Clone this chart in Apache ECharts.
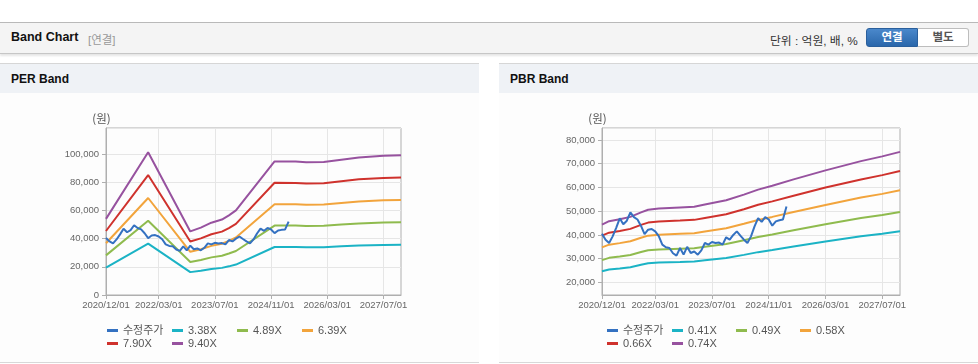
<!DOCTYPE html>
<html><head><meta charset="utf-8">
<script src="https://cdn.jsdelivr.net/npm/echarts@6/dist/echarts.min.js"></script>
<style>
html,body{margin:0;padding:0;background:#fff;width:978px;height:364px;overflow:hidden;font-family:'Liberation Sans','Noto Sans CJK KR',sans-serif;}
.abs{position:absolute;}
#topbar{left:0;top:22px;width:978px;height:30px;background:#f4f4f4;border-top:1px solid #b9b9b9;border-bottom:1px solid #c6c6c6;box-shadow:0 2px 2px rgba(0,0,0,0.10);}
#ttl{left:11px;top:7px;font-weight:bold;font-size:12.5px;color:#111;}
#sub{left:88px;top:8px;font-size:11.5px;color:#999;}
#unit{left:770px;top:8px;font-size:11.8px;color:#333;}
#btn1{left:866px;top:5px;width:52px;height:19px;background:linear-gradient(#4a88cb,#2a67ab);border:1px solid #2a5f9c;border-radius:3px 0 0 3px;box-sizing:border-box;color:#fff;font-weight:bold;font-size:11.5px;text-align:center;line-height:17px;}
#btn2{left:918px;top:5px;width:51px;height:19px;background:#fff;border:1px solid #bdbdbd;border-left:none;border-radius:0 3px 3px 0;box-sizing:border-box;color:#555;font-weight:bold;font-size:11.5px;text-align:center;line-height:17px;}
.ph{top:63px;height:29px;background:#eff2f6;border-top:1px solid #d6d6d6;}
.ph span{position:absolute;left:11px;top:8px;font-weight:bold;font-size:12px;color:#111;}
.pb{top:93px;height:269px;background:#fdfdfd;border-bottom:1px solid #d8d8d8;}
#chart{left:0;top:0;width:978px;height:364px;}
</style></head>
<body>
<div id="topbar" class="abs">
  <div id="ttl" class="abs">Band Chart</div>
  <div id="sub" class="abs">[연결]</div>
  <div id="unit" class="abs">단위 : 억원, 배, %</div>
  <div id="btn1" class="abs">연결</div>
  <div id="btn2" class="abs">별도</div>
</div>
<div class="abs ph" style="left:0;width:479px;"><span>PER Band</span></div>
<div class="abs ph" style="left:499px;width:479px;"><span>PBR Band</span></div>
<div class="abs pb" style="left:0;width:479px;"></div>
<div class="abs pb" style="left:499px;width:479px;"></div>
<div id="chart" class="abs"></div>
<script>
const categories = [
'2020/12/01',
'2021/01/01','2021/02/01','2021/03/01','2021/04/01','2021/05/01','2021/06/01','2021/07/01','2021/08/01','2021/09/01','2021/10/01','2021/11/01','2021/12/01',
'2022/01/01','2022/02/01','2022/03/01','2022/04/01','2022/05/01','2022/06/01','2022/07/01','2022/08/01','2022/09/01','2022/10/01','2022/11/01','2022/12/01',
'2023/01/01','2023/02/01','2023/03/01','2023/04/01','2023/05/01','2023/06/01','2023/07/01','2023/08/01','2023/09/01','2023/10/01','2023/11/01','2023/12/01',
'2024/01/01','2024/02/01','2024/03/01','2024/04/01','2024/05/01','2024/06/01','2024/07/01','2024/08/01','2024/09/01','2024/10/01','2024/11/01','2024/12/01',
'2025/01/01','2025/02/01','2025/03/01','2025/04/01','2025/05/01','2025/06/01','2025/07/01','2025/08/01','2025/09/01','2025/10/01','2025/11/01','2025/12/01',
'2026/01/01','2026/02/01','2026/03/01','2026/04/01','2026/05/01','2026/06/01','2026/07/01','2026/08/01','2026/09/01','2026/10/01','2026/11/01','2026/12/01',
'2027/01/01','2027/02/01','2027/03/01','2027/04/01','2027/05/01','2027/06/01','2027/07/01','2027/08/01','2027/09/01','2027/10/01','2027/11/01','2027/12/01'
];
const xTickLabels = ['2020/12/01','2022/03/01','2023/07/01','2024/11/01','2026/03/01','2027/07/01'];

// 수정주가 (monthly, from 2020/12)
const price = [40500,38000,36600,39400,43000,47000,44500,46000,49500,47500,46500,43800,40300,42200,42500,41500,39500,35900,34800,34500,32300,31300,34500,31700,35000,32400,33000,31700,33500,36600,35900,37000,36600,36800,35900,39000,38000,40000,41500,39700,38000,36600,39400,43600,47100,45500,47500,46500,43900,45700,46200,46500,52000];

// PER band
const perNames = ['3.38X','4.89X','6.39X','7.90X','9.40X'];
const perDates = ['2020/12/01','2021/12/01','2022/12/01','2023/03/01','2023/06/01','2023/09/01','2023/11/01','2024/01/01','2024/12/01','2025/06/01','2025/09/01','2026/02/01','2026/07/01','2026/12/01','2027/07/01','2027/12/01'];
const per338 = [19420,36390,16220,17190,18450,19240,20320,21580,34050,34020,33840,33910,34520,35100,35530,35640];
const per489 = [28090,52640,23460,24870,26690,27830,29390,31210,49260,49210,48950,49050,49940,50770,51400,51550];
const per639 = [36710,68800,30660,32490,34870,36370,38410,40790,64380,64310,63970,64100,65260,66350,67160,67370];
const per790 = [45380,85050,37900,40170,43110,44960,47480,50430,79590,79500,79080,79250,80680,82020,83030,83280];
const per940 = [54000,101200,45100,47800,51300,53500,56500,60000,94700,94600,94100,94300,96000,97600,98800,99100];

// PBR band
const pbrNames = ['0.41X','0.49X','0.58X','0.66X','0.74X'];
const pbrDates = ['2020/12/01','2021/02/01','2021/05/01','2021/08/01','2021/11/01','2022/01/01','2022/04/01','2022/10/01','2023/02/01','2023/05/01','2023/11/01','2024/04/01','2024/08/01','2024/12/01','2025/06/01','2026/03/01','2027/01/01','2027/07/01','2027/12/01'];
const pbr041 = [24700,25450,25850,26400,27450,28050,28350,28600,28800,29300,30300,31600,32750,33650,35150,37250,39400,40500,41600];
const pbr049 = [29400,30350,30900,31550,32800,33550,33850,34200,34400,35000,36200,37750,39150,40200,42000,44500,47100,48400,49700];
const pbr058 = [34750,35900,36550,37350,38800,39700,40050,40450,40700,41400,42800,44700,46300,47600,49700,52650,55750,57300,58800];
const pbr066 = [39700,40950,41650,42550,44250,45200,45650,46050,46350,47150,48750,50850,52700,54150,56550,59950,63400,65200,66900];
const pbr074 = [44300,45800,46600,47600,49500,50600,51100,51600,51900,52800,54600,57000,59100,60700,63400,67200,71100,73100,75000];

const perAxis = {min: 0, max: 118440};
const pbrAxis = {min: 14690, max: 85060};

const FONT = "'Liberation Sans','Noto Sans CJK KR',sans-serif";
const colors = {price:'#3471c1', c1:'#1bb3c5', c2:'#8fbb4e', c3:'#f2a43c', c4:'#cf322d', c5:'#97529f'};
const bandColors = [colors.c1, colors.c2, colors.c3, colors.c4, colors.c5];

const isTick = (i, v) => xTickLabels.indexOf(v) >= 0;
const fmt = v => String(v).replace(/\B(?=(\d{3})+(?!\d))/g, ',');

function xAxis(gi) {
  return {
    type: 'category', gridIndex: gi, data: categories, boundaryGap: false,
    axisLine: {lineStyle: {color: '#afafaf', width: 1}},
    axisTick: {show: true, interval: isTick, length: 4, lineStyle: {color: '#afafaf'}},
    axisLabel: {interval: isTick, color: '#666', fontSize: 9.5, fontFamily: FONT, margin: 6},
    splitLine: {show: true, interval: isTick, lineStyle: {color: '#e6e6e6', width: 1}}
  };
}
function yAxis(gi, ext) {
  return {
    type: 'value', gridIndex: gi, min: ext.min, max: ext.max, splitNumber: 5,
    axisLine: {show: true, lineStyle: {color: '#afafaf', width: 1}},
    axisTick: {show: true, length: 4, lineStyle: {color: '#afafaf'}},
    axisLabel: {color: '#666', fontSize: 9.5, fontFamily: FONT, margin: 7, showMinLabel: ext.min === 0, showMaxLabel: false,
      formatter: v => (v % 10000 === 0 ? fmt(v) : '')},
    splitLine: {show: true, lineStyle: {color: '#e6e6e6', width: 1}}
  };
}
function legendItem(left, top, name) {
  return {
    left: left, top: top, data: [name], icon: 'rect', itemWidth: 11, itemHeight: 3, itemGap: 0, padding: 0,
    selectedMode: false,
    textStyle: {fontSize: 11, color: '#555', fontFamily: FONT}
  };
}
function pairs(dates, vals) { return dates.map((d, k) => [d, vals[k]]); }
function lineSeries(name, gi, data, color) {
  return {
    name: name, type: 'line', xAxisIndex: gi, yAxisIndex: gi, data: data,
    showSymbol: false, symbol: 'none', smooth: false, connectNulls: true,
    lineStyle: {color: color, width: 2}, itemStyle: {color: color}, emphasis: {disabled: true}
  };
}

const perBands = [per338, per489, per639, per790, per940];
const pbrBands = [pbr041, pbr049, pbr058, pbr066, pbr074];
const series = [];
perBands.forEach((b, k) => series.push(lineSeries(perNames[k], 0, pairs(perDates, b), bandColors[k])));
series.push(lineSeries('수정주가', 0, price, colors.price));
pbrBands.forEach((b, k) => series.push(lineSeries(pbrNames[k], 1, pairs(pbrDates, b), bandColors[k])));
series.push(lineSeries('수정주가', 1, price, colors.price));

const legends = [];
[[107, 325, '수정주가'], [172, 325, perNames[0]], [237, 325, perNames[1]], [302, 325, perNames[2]],
 [107, 338, perNames[3]], [172, 338, perNames[4]],
 [607, 325, '수정주가'], [672, 325, pbrNames[0]], [736, 325, pbrNames[1]], [800, 325, pbrNames[2]],
 [607, 338, pbrNames[3]], [672, 338, pbrNames[4]]].forEach(a => legends.push(legendItem(a[0], a[1], a[2])));

const chart = echarts.init(document.getElementById('chart'), null, {renderer: 'canvas'});
chart.setOption({
  animation: false,
  textStyle: {fontFamily: FONT},
  grid: [
    {left: 106, top: 128, width: 295, height: 167, show: true, borderColor: '#afafaf', borderWidth: 1, backgroundColor: 'transparent'},
    {left: 602, top: 128, width: 298, height: 167, show: true, borderColor: '#afafaf', borderWidth: 1, backgroundColor: 'transparent'}
  ],
  xAxis: [xAxis(0), xAxis(1)],
  yAxis: [yAxis(0, perAxis), yAxis(1, pbrAxis)],
  legend: legends,
  graphic: [
    {type: 'text', x: 101.5, y: 119, style: {text: '(원)', fill: '#555', font: "11.5px 'Noto Sans CJK KR'", align: 'center', verticalAlign: 'middle'}},
    {type: 'text', x: 597.5, y: 119, style: {text: '(원)', fill: '#555', font: "11.5px 'Noto Sans CJK KR'", align: 'center', verticalAlign: 'middle'}}
  ],
  series: series
});
</script>
</body></html>
